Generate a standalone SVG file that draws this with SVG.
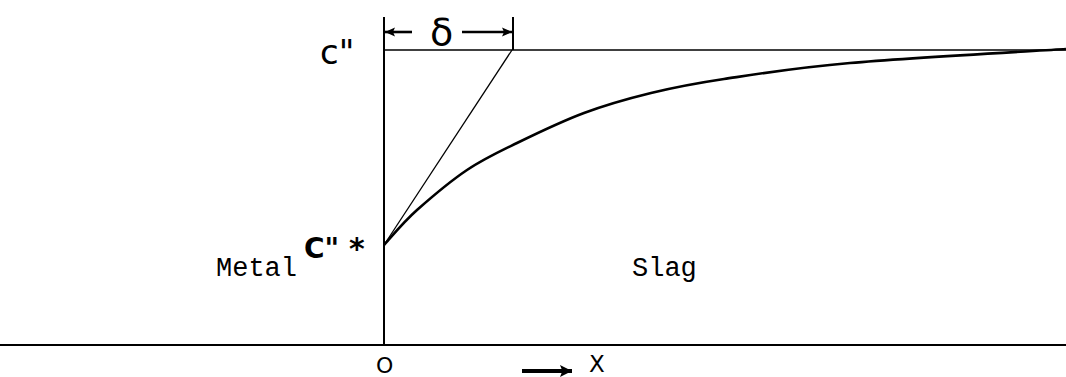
<svg xmlns="http://www.w3.org/2000/svg" width="1066" height="377" viewBox="0 0 1066 377">
  <defs>
    <style>
      .ln { stroke: #000; fill: none; stroke-linecap: butt; }
      .mono { font-family: "Liberation Mono", "Courier New", monospace; fill: #000; }
      .hand { font-family: "DejaVu Sans", "Liberation Sans", sans-serif; fill: #000; }
    </style>
    <marker id="ah" viewBox="0 0 10 10" refX="10" refY="5" markerWidth="18" markerHeight="10" markerUnits="userSpaceOnUse" orient="auto">
      <path d="M0,0.5 L10,5 L0,9.5 L2,5 Z" fill="#000"/>
    </marker>
    <marker id="ahx" viewBox="0 0 10 10" refX="10" refY="5" markerWidth="28" markerHeight="12" markerUnits="userSpaceOnUse" orient="auto">
      <path d="M0,0 L10,5 L0,10 L2,5 Z" fill="#000"/>
    </marker>
  </defs>
  <rect width="1066" height="377" fill="#fff"/>

  <g id="axes">
    <line class="ln" x1="0" y1="345" x2="1066" y2="345" stroke-width="2.2"/>
    <line class="ln" x1="384" y1="17" x2="384" y2="345" stroke-width="2"/>
    <line class="ln" x1="384" y1="50" x2="1066" y2="50" stroke-width="1.6"/>
  </g>

  <g id="connectors">
    <line class="ln" x1="513" y1="17" x2="513" y2="50" stroke-width="2"/>
    <line class="ln" x1="412" y1="32" x2="385" y2="32" stroke-width="2.6" marker-end="url(#ah)"/>
    <line class="ln" x1="462" y1="32" x2="512" y2="32" stroke-width="2.6" marker-end="url(#ah)"/>
    <line class="ln" x1="384" y1="245" x2="512" y2="50" stroke-width="1.3"/>
    <line class="ln" x1="522" y1="371" x2="572" y2="371" stroke-width="4" marker-end="url(#ahx)"/>
  </g>

  <g id="curve">
    <path class="ln" stroke-width="2.6" d="M384,245 C389.5,239 403.2,222.2 417,210 C430.8,197.8 450.3,181.2 467,170 C483.7,158.8 497.5,152.5 517,143 C536.5,133.5 561.7,121.3 584,113 C606.3,104.7 627.7,98.7 651,93 C674.3,87.3 690.8,84 724,79 C757.2,74 793,68 850,63 C907,58 1030,51.3 1066,49"/>
  </g>

  <g id="labels">
    <text class="hand" x="320" y="64" font-size="34">c"</text>
    <text class="hand" x="304" y="258" font-size="28" font-weight="bold">C"</text>
    <text class="hand" x="349" y="259" font-size="30" font-weight="bold">*</text>
    <text class="hand" x="430" y="45" font-size="38">δ</text>
    <text class="mono" x="216" y="276" font-size="27">Metal</text>
    <text class="mono" x="632" y="276" font-size="27">Slag</text>
    <text class="hand" x="376" y="373" font-size="22">O</text>
    <text class="hand" x="589" y="372" font-size="23">X</text>
  </g>
</svg>
